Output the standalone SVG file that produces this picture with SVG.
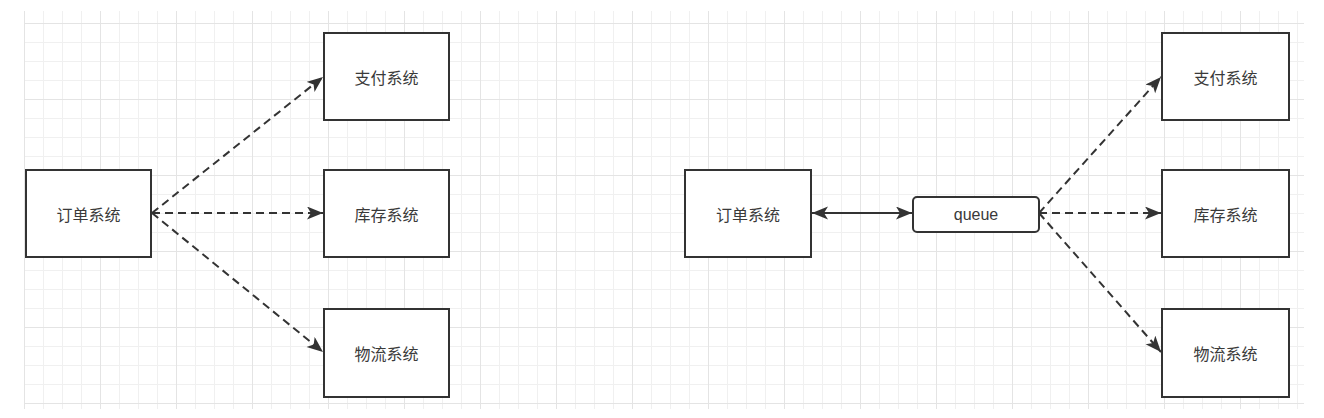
<svg xmlns="http://www.w3.org/2000/svg" width="1324" height="418" viewBox="0 0 1324 418">
  <style>
    .box { fill: #ffffff; stroke: #333333; stroke-width: 2; }
    .lbl { font-family: "Noto Sans CJK SC", "Liberation Sans", sans-serif; font-size: 16px; fill: #3a3a3a; text-anchor: middle; dominant-baseline: central; }
    .lat { font-family: "Liberation Sans", "Noto Sans", sans-serif; font-size: 16px; fill: #3a3a3a; text-anchor: middle; dominant-baseline: central; }
    .dash { fill: none; stroke: #333333; stroke-width: 2; stroke-dasharray: 8 5; marker-end: url(#arr); }
    .solid { fill: none; stroke: #333333; stroke-width: 2; marker-end: url(#arr); marker-start: url(#arr); }
  </style>
  <defs>
    <pattern id="minor" x="5" y="4" width="19" height="19" patternUnits="userSpaceOnUse">
      <path d="M0.5,0 V19 M0,0.5 H19" fill="none" stroke="#f0f0f0" stroke-width="1"/>
    </pattern>
    <pattern id="major" x="24" y="23" width="76" height="76" patternUnits="userSpaceOnUse">
      <path d="M0.5,0 V76 M0,0.5 H76" fill="none" stroke="#e4e4e4" stroke-width="1"/>
    </pattern>
    <marker id="arr" markerUnits="userSpaceOnUse" markerWidth="18" markerHeight="14" refX="16" refY="6.5" orient="auto-start-reverse" viewBox="0 0 18 14">
      <path d="M0,0 L16,6.5 L0,13 L4,6.5 Z" fill="#333333" stroke="none"/>
    </marker>
  </defs>
  <rect x="0" y="0" width="1324" height="418" fill="#ffffff"/>
  <g id="grid">
    <rect x="24" y="11" width="1280" height="398" fill="url(#minor)"/>
    <rect x="24" y="11" width="1280" height="398" fill="url(#major)"/>
  </g>
  <g id="connectors">
    <line class="dash" x1="152" y1="213" x2="323" y2="77"/>
    <line class="dash" x1="152" y1="213" x2="323" y2="213"/>
    <line class="dash" x1="152" y1="213" x2="323" y2="352"/>
    <line class="solid" x1="812" y1="213" x2="912" y2="213"/>
    <line class="dash" x1="1039" y1="213" x2="1161" y2="77"/>
    <line class="dash" x1="1039" y1="213" x2="1161" y2="213"/>
    <line class="dash" x1="1039" y1="213" x2="1161" y2="352"/>
  </g>
  <g id="order-left">
    <rect class="box" x="26" y="170" width="125" height="87"/>
    <text class="lbl" x="88.5" y="213.5">订单系统</text>
  </g>
  <g id="pay-left">
    <rect class="box" x="324" y="33" width="125" height="87"/>
    <text class="lbl" x="386.5" y="76.5">支付系统</text>
  </g>
  <g id="stock-left">
    <rect class="box" x="324" y="170" width="125" height="87"/>
    <text class="lbl" x="386.5" y="213.5">库存系统</text>
  </g>
  <g id="logistics-left">
    <rect class="box" x="324" y="309" width="125" height="88"/>
    <text class="lbl" x="386.5" y="353">物流系统</text>
  </g>
  <g id="order-right">
    <rect class="box" x="685" y="170" width="126" height="87"/>
    <text class="lbl" x="748" y="213.5">订单系统</text>
  </g>
  <g id="queue">
    <rect class="box" x="913" y="197" width="126" height="35" rx="4" ry="4"/>
    <text class="lat" x="976" y="214.5">queue</text>
  </g>
  <g id="pay-right">
    <rect class="box" x="1162" y="33" width="127" height="87"/>
    <text class="lbl" x="1225.5" y="76.5">支付系统</text>
  </g>
  <g id="stock-right">
    <rect class="box" x="1162" y="170" width="127" height="87"/>
    <text class="lbl" x="1225.5" y="213.5">库存系统</text>
  </g>
  <g id="logistics-right">
    <rect class="box" x="1162" y="309" width="127" height="88"/>
    <text class="lbl" x="1225.5" y="353">物流系统</text>
  </g>
</svg>
